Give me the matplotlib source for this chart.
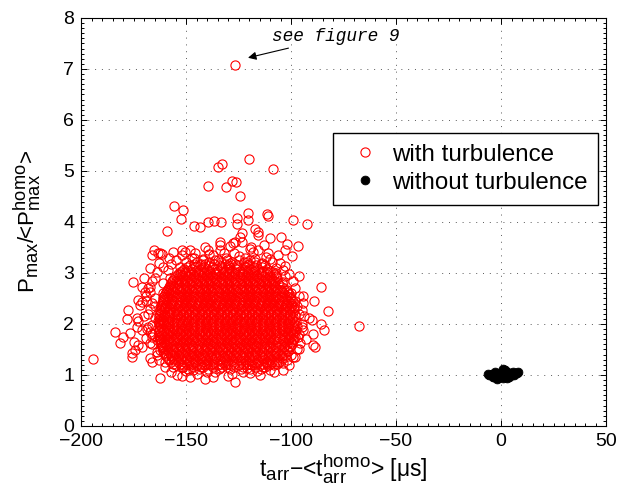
import matplotlib
matplotlib.use("Agg")
import matplotlib.pyplot as plt
import matplotlib._mathtext as _mt
from matplotlib.ticker import MultipleLocator
import numpy as np

plt.rcParams['font.family'] = ['Liberation Sans', 'DejaVu Sans']
plt.rcParams['mathtext.fontset'] = 'custom'
plt.rcParams['mathtext.rm'] = 'Liberation Sans'
plt.rcParams['mathtext.it'] = 'Liberation Sans'
_mt.SHRINK_FACTOR = 0.82

# ---- data: scattered points with turbulence ----
turb_x_sparse = [-126.7, -133.0, -134.6, -139.4, -131.1, -128.0, -126.3, -124.3, -155.7, -151.3,
                 -152.5, -146.2, -143.3, -139.4, -136.7, -133.5, -125.9, -125.9, -158.9, -165.1,
                 -163.2, -161.6, -152.0, -150.5, -145.7, -139.4, -133.8, -133.8, -129.0, -126.7,
                 -124.3, -120.0, -108.7, -120.3, -120.3, -111.3, -110.8, -98.9, -92.2, -117.1,
                 -115.6, -115.6, -123.5, -123.5, -110.0, -104.9, -101.8, -96.8, -102.9, -99.7,
                 -110.8, -115.6, -119.5, -127.5, -105.2, -102.9, -109.2, -96.2, -85.9, -89.0,
                 -82.2, -67.5, -85.9, -84.3, -91.3, -90.1, -89.7, -89.4, -88.6, -94.1,
                 -94.1, -94.9, -103.7, -104.4, -98.9, -102.0, -103.7, -106.8, -96.5, -95.7,
                 -94.1, -175.1, -171.1, -167.1, -167.1, -169.5, -177.5, -172.7, -171.1, -171.9,
                 -166.3, -173.5, -172.7, -183.8, -176.7, -181.4, -194.1, -175.9, -175.9, -174.3,
                 -171.1, -172.7, -167.1, -166.3, -162.4, -161.6, -162.4, -154.4, -148.1, -173.5,
                 -171.1, -168.7, -166.3, -164.0, -158.4, -157.6, -160.8, -160.8, -162.4, -160.8,
                 -126.7, -137.0, -141.8, -133.8, -146.5, -151.3, -119.5, -113.2, -121.1, -111.6,
                 -166.3, -162.4,
                 -168, -166, -169, -165, -167, -163, -158, -155, -152, -147,
                 -142, -137, -131, -127, -122, -117, -112, -107, -103, -100,
                 -98, -96, -95, -96, -97, -100, -104, -108, -115, -128,
                 -140, -150, -156, -160, -164, -166, -167, -165, -170, -178,
                 -180, -175]
turb_y_sparse = [7.08, 5.14, 5.07, 4.71, 4.68, 4.81, 4.78, 4.51, 4.32, 4.24,
                 4.06, 3.93, 3.91, 3.99, 4.01, 4.00, 4.07, 3.96, 3.83, 3.45,
                 3.40, 3.37, 3.45, 3.42, 3.40, 3.45, 3.61, 3.45, 3.52, 3.61,
                 3.71, 5.24, 5.04, 4.18, 4.03, 4.15, 4.12, 4.04, 3.97, 3.87,
                 3.81, 3.75, 3.78, 3.61, 3.68, 3.70, 3.57, 3.52, 3.45, 3.33,
                 3.40, 3.45, 3.48, 3.58, 3.19, 3.14, 3.22, 2.95, 2.72, 2.46,
                 2.26, 1.96, 2.00, 1.88, 2.11, 2.08, 1.80, 1.59, 1.55, 2.54,
                 2.41, 2.27, 2.83, 2.80, 1.36, 1.29, 1.23, 1.26, 1.75, 1.62,
                 1.88, 2.83, 2.73, 2.73, 2.63, 2.63, 2.27, 2.47, 2.44, 2.37,
                 2.41, 2.11, 2.05, 1.85, 1.82, 1.62, 1.31, 1.43, 1.36, 1.49,
                 1.55, 1.59, 1.33, 1.26, 1.49, 1.55, 0.95, 1.00, 0.97, 1.95,
                 1.88, 1.91, 1.75, 1.69, 3.06, 2.90, 2.80, 2.60, 2.27, 2.08,
                 0.87, 0.97, 1.16, 1.13, 1.10, 1.16, 1.03, 1.16, 1.13, 1.23,
                 3.35, 3.39,
                 2.20, 1.98, 2.55, 2.90, 3.10, 3.20, 3.30, 3.25, 3.35, 3.30,
                 3.28, 3.35, 3.30, 3.40, 3.30, 3.28, 3.32, 3.00, 2.95, 2.60,
                 2.45, 2.20, 2.00, 1.80, 1.50, 1.40, 1.10, 1.05, 1.00, 1.02,
                 1.05, 1.08, 1.15, 1.25, 1.40, 1.60, 1.85, 2.35, 2.90, 2.10,
                 1.75, 1.65]

# looser halo around the dense core
turb_x_halo = [-164, -161, -157, -153, -150, -146, -143, -139, -135, -132,
               -129, -125, -121, -118, -114, -110, -107, -104, -101, -156,
               -148, -141, -134, -119, -113, -106,
               -166, -168, -165, -167, -165, -168, -166, -167, -164, -163,
               -160, -169, -170, -169,
               -98, -96, -97, -94, -95, -93, -96, -98, -101, -99,
               -157, -145, -136, -130, -123, -116, -110, -141, -152]
turb_y_halo = [3.02, 3.12, 3.18, 3.12, 3.22, 3.30, 3.18, 3.38, 3.25, 3.40,
               3.20, 3.33, 3.22, 3.42, 3.20, 3.28, 3.10, 3.05, 2.98, 3.42,
               3.45, 3.50, 3.55, 3.50, 3.55, 3.35,
               2.85, 2.70, 2.50, 2.30, 2.12, 1.95, 1.80, 1.62, 1.45, 1.30,
               1.15, 2.45, 2.15, 1.72,
               2.70, 2.55, 2.35, 2.15, 1.95, 1.70, 1.50, 1.35, 1.20, 2.85,
               1.05, 1.02, 1.05, 0.98, 1.05, 1.08, 1.10, 0.93, 0.98]

# dense core of the cloud, row by row (y level: x values)
turb_core_rows = {
    1.12: "-149 -144 -139.5 -134.5 -129 -124 -119.5 -114.5",
    1.155: "-152 -146.5 -143 -137 -133 -127 -123 -117 -112.5",
    1.19: "-155 -151.5 -148 -145 -141.5 -138.5 -135 -131.5 -128.5 -125 -121.5 -118.5 -115 -111.5 -108",
    1.225: "-156 -153 -149.5 -146.5 -143.5 -140 -137 -133.5 -130 -127 -123 -120 -116.5 -113.5 -110 -106.5",
    1.26: "-157 -154 -151 -148.5 -145.5 -142 -139.5 -136.5 -133 -130.5 -127.5 -124 -121.5 -118.5 -115.5 -112 -109 -105.5",
    1.295: "-158 -155.5 -152.5 -149.5 -146 -143 -140.5 -137 -134 -131 -128 -125 -122 -119 -116 -113 -110 -106.5",
    1.33: "-158.5 -155.5 -152.5 -150 -147 -144 -141 -138 -135.5 -132 -129 -126 -123.5 -120 -117 -114 -111 -107.5 -104.5",
    1.365: "-159.5 -156.5 -153.5 -150.5 -147.5 -144.5 -141.5 -138.5 -135.5 -132.5 -129.5 -126.5 -123 -120 -117.5 -114.5 -111 -108 -104.5",
    1.40: "-160 -157 -154 -151.5 -148.5 -145.5 -142.5 -139.5 -136.5 -134 -130.5 -127.5 -124.5 -121.5 -118.5 -116 -112.5 -109 -105.5 -102.5",
    1.435: "-160.5 -157.5 -155 -152 -149 -146 -143 -140 -137.5 -134.5 -131.5 -128.5 -125.5 -122.5 -119 -116.5 -113.5 -110 -106.5 -103.5",
    1.47: "-161 -158.5 -155.5 -152.5 -150 -147 -144 -141 -138 -135 -132.5 -129 -126 -123 -120.5 -117 -114 -111 -107.5 -104.5 -101.5",
    1.505: "-161 -159 -156 -153.5 -150.5 -147.5 -144.5 -141.5 -138.5 -135.5 -133 -130 -127 -124 -121 -118 -115 -112 -108.5 -105 -102",
    1.54: "-161.5 -158 -155 -152 -149 -146.5 -143 -140 -137 -134.5 -131 -128 -125 -122 -119 -116.5 -113 -110 -106.5 -103.5 -100.5",
    1.575: "-161.5 -159 -156 -153 -150 -147 -144 -140.5 -137.5 -134 -131.5 -128.5 -125.5 -122.5 -119.5 -116 -113 -110 -107 -103.5 -100.5",
    1.61: "-162 -159.5 -156.5 -153.5 -150.5 -147.5 -144.5 -141.5 -138.5 -135.5 -132.5 -129.5 -126.5 -123.5 -120.5 -117.5 -114.5 -111.5 -108.5 -105 -102 -99.5",
    1.645: "-162 -160.5 -157.5 -154.5 -151.5 -148.5 -145.5 -142.5 -139.5 -136.5 -133.5 -130.5 -127.5 -124.5 -121.5 -118.5 -115.5 -112.5 -109.5 -106.5 -103 -100",
    1.68: "-162.5 -159 -156 -153 -150 -147 -144 -141 -138 -135 -132 -129 -126 -123 -120 -117 -114 -111 -108 -104.5 -101.5 -99",
    1.715: "-162.5 -161 -158 -155 -152 -149 -146 -143 -140 -137 -134 -131 -128 -125 -122 -119 -116 -113 -110 -107 -104 -101 -98.5",
    1.75: "-163 -160 -157.5 -154.5 -151.5 -148.5 -145.5 -142.5 -139.5 -136.5 -133.5 -130.5 -127.5 -124.5 -121.5 -118.5 -115.5 -112.5 -109.5 -106 -103 -100.5 -98",
    1.785: "-163 -161.5 -159 -156 -153 -150 -147 -144 -141 -138 -135 -132 -129 -126 -123 -120 -117 -114 -111 -107.5 -104.5 -101.5 -99",
    1.82: "-162.5 -159.5 -156.5 -153.5 -150.5 -147.5 -144 -141 -138.5 -135.5 -132.5 -129.5 -126.5 -123 -120.5 -117.5 -114.5 -111.5 -108.5 -105.5 -102 -99",
    1.855: "-163 -161 -158 -155 -152 -149 -146 -143 -140 -137 -134 -131 -128 -125 -122 -119 -116 -113 -110 -107 -104 -101 -98.5",
    1.89: "-163 -160.5 -157.5 -154.5 -151.5 -148.5 -145.5 -142.5 -139.5 -136.5 -133.5 -130.5 -127.5 -124.5 -121.5 -118.5 -115.5 -112.5 -109.5 -106.5 -103.5 -100 -97.5",
    1.925: "-163.5 -161.5 -158.5 -155.5 -152.5 -149.5 -146.5 -143.5 -140.5 -137.5 -134.5 -131.5 -128.5 -125.5 -122.5 -119.5 -116.5 -113.5 -110.5 -107.5 -104.5 -101.5 -98.5",
    1.96: "-162.5 -159.5 -156 -153 -150 -147 -144 -141 -138 -135 -132 -129 -126 -123 -120 -117 -114 -111 -108 -105 -102 -99 -97",
    1.995: "-163 -161 -158 -155 -152 -149.5 -146.5 -143.5 -140.5 -137.5 -134.5 -131.5 -128.5 -125.5 -122.5 -119.5 -116.5 -113.5 -110.5 -107.5 -104.5 -101.5 -98.5",
    2.03: "-163 -160.5 -157.5 -154.5 -151.5 -148.5 -145.5 -142.5 -139.5 -136.5 -133.5 -130.5 -127.5 -124.5 -121.5 -118.5 -115.5 -112.5 -109.5 -106.5 -103.5 -100.5 -97.5",
    2.065: "-163.5 -161.5 -158.5 -155.5 -152 -149 -146 -143 -140 -137 -134 -131 -128 -125 -122 -119 -116 -113 -110 -107 -104 -101 -98.5",
    2.10: "-162.5 -159.5 -156.5 -153 -150 -147 -144 -141 -138 -135 -132 -129 -126 -123 -120 -117 -114 -111 -108 -105 -102 -99.5",
    2.135: "-163 -161 -158 -155 -152.5 -149.5 -146.5 -143.5 -140.5 -137.5 -134.5 -131.5 -128.5 -125.5 -122.5 -119.5 -116.5 -113.5 -110.5 -107.5 -104.5 -101.5 -99",
    2.17: "-163 -160 -157.5 -154.5 -151.5 -148.5 -145.5 -142.5 -139.5 -136.5 -133.5 -130.5 -127.5 -124.5 -121.5 -118.5 -115.5 -112.5 -109.5 -106.5 -103.5 -100.5 -98",
    2.205: "-162.5 -160.5 -157.5 -154.5 -151.5 -148.5 -145.5 -142.5 -139.5 -136.5 -133.5 -130.5 -127.5 -124.5 -121.5 -118.5 -115.5 -112.5 -109.5 -106.5 -103.5 -100.5",
    2.24: "-162 -159 -156 -153 -150 -147 -144 -141 -138 -135 -132 -129 -126 -123 -120 -117 -114 -111 -108 -105 -102 -99",
    2.275: "-162.5 -160.5 -158 -155 -152 -149 -146 -143 -140 -137 -134 -131 -128 -125 -122 -119 -116 -113 -110 -107 -104 -101 -98.5",
    2.31: "-162 -160 -157.5 -154.5 -151.5 -148.5 -145.5 -142.5 -139.5 -136.5 -133.5 -130.5 -127.5 -124.5 -121.5 -118.5 -115.5 -112.5 -109.5 -106.5 -103.5 -100.5 -98.5",
    2.345: "-162 -160 -157 -154 -151 -148 -145 -142 -139 -136 -133 -130 -127 -124 -121 -118 -115 -112 -109 -106 -103 -100",
    2.38: "-161.5 -159 -156 -153 -150 -147 -144 -141 -138 -135 -132 -129 -126 -123 -120 -117 -114 -111 -108 -105 -102 -99.5",
    2.415: "-161.5 -159.5 -156.5 -153.5 -150.5 -147.5 -144.5 -141.5 -138.5 -135.5 -132.5 -129.5 -126.5 -123.5 -120.5 -117.5 -114.5 -111.5 -108.5 -105.5 -102.5 -100",
    2.45: "-161 -158.5 -155.5 -152.5 -149.5 -146.5 -143.5 -140.5 -137.5 -134.5 -131.5 -128.5 -125.5 -122.5 -119.5 -116.5 -113.5 -110.5 -107.5 -104.5 -101.5 -99",
    2.485: "-161 -159.5 -156.5 -153.5 -150.5 -147.5 -144.5 -141.5 -138.5 -135.5 -132.5 -129.5 -126.5 -123.5 -120.5 -117.5 -114.5 -111.5 -108.5 -105.5 -102.5 -100",
    2.52: "-161 -158 -155 -152 -149 -146 -143 -140 -137 -134 -131 -128 -125 -122 -119 -116 -113 -110 -107 -104 -100.5",
    2.555: "-160.5 -159 -156 -153 -150 -147 -144 -141 -138 -135 -132 -129 -126 -123 -120 -117 -114 -111 -108 -105 -102",
    2.59: "-160 -157.5 -154.5 -151.5 -148.5 -145.5 -142.5 -139.5 -136.5 -133.5 -130.5 -127.5 -124.5 -121.5 -118.5 -115.5 -112.5 -109.5 -106.5 -103.5 -101",
    2.625: "-159.5 -158 -155.5 -152.5 -149.5 -146.5 -143.5 -140.5 -137.5 -134.5 -131.5 -128.5 -125.5 -122.5 -119.5 -116.5 -113.5 -110.5 -107.5 -104.5 -101.5",
    2.66: "-159 -156 -153 -150 -147 -144 -141 -138 -135 -132 -129 -126 -123 -120 -117 -114 -111 -108 -105 -102",
    2.695: "-158.5 -157 -154.5 -151.5 -148.5 -145.5 -142.5 -139.5 -136.5 -133.5 -130.5 -127.5 -124.5 -121.5 -118.5 -115.5 -112.5 -109.5 -106.5 -103.5",
    2.73: "-158 -155.5 -152.5 -149.5 -146.5 -143.5 -140.5 -137.5 -134.5 -131.5 -128.5 -125.5 -122.5 -119.5 -116.5 -113.5 -110.5 -107.5 -104.5",
    2.765: "-157.5 -156 -153.5 -150.5 -147.5 -144.5 -141.5 -138.5 -135.5 -132.5 -129.5 -126.5 -123.5 -120.5 -117.5 -114.5 -111.5 -108.5 -105.5",
    2.80: "-157 -154 -151 -148 -145 -142 -139 -136 -133 -130 -127 -124 -121 -118 -115 -112 -109 -106",
    2.835: "-156.5 -155 -152.5 -149.5 -146.5 -143.5 -140.5 -137.5 -134.5 -131.5 -128.5 -125.5 -122.5 -119.5 -116.5 -113.5 -110.5 -107.5",
    2.87: "-156 -153.5 -150.5 -147.5 -144.5 -141.5 -138.5 -135.5 -132.5 -129.5 -126.5 -123.5 -120.5 -117.5 -114.5 -111.5 -108.5",
    2.905: "-155.5 -154 -151.5 -148.5 -145.5 -142.5 -139.5 -136.5 -133.5 -130.5 -127.5 -124.5 -121.5 -118.5 -115.5 -112.5 -109.5 -106.5",
    2.94: "-155 -152 -149 -146 -143 -140 -137 -134 -131 -128 -125 -122 -119 -116 -113 -110 -107",
    2.975: "-154 -153 -150.5 -147.5 -144.5 -141.5 -138.5 -135.5 -132.5 -129.5 -126.5 -123.5 -120.5 -117.5 -114.5 -111.5 -108",
    3.01: "-153 -150.5 -147.5 -144.5 -141.5 -138.5 -135.5 -132.5 -129.5 -126.5 -123.5 -120.5 -117.5 -114.5 -111.5 -108.5",
    3.045: "-152 -149 -145.5 -142 -139 -135 -131.5 -128 -124.5 -121 -117 -113.5 -110",
    3.08: "-151 -147 -143.5 -140 -136.5 -133 -129.5 -126 -122.5 -119 -115.5 -111.5",
    3.115: "-149.5 -145.5 -141.5 -137.5 -133.5 -129.5 -125.5 -121.5 -117.5 -114",
    3.15: "-148 -143.5 -139 -134.5 -130 -125.5 -121 -116.5 -112.5",
    3.185: "-146 -141 -136.5 -131.5 -126.5 -120 -114.5",
    3.22: "-145 -139 -133.5 -128 -122.5 -117",
    3.26: "-142 -136 -130.5 -125 -119.5",
}

# points without turbulence
noturb_x = [-5.5, -4.5, -3.5, -2.5, -1.5, -1.0, 0.0, 0.5, 1.0, 1.5, 2.0, 2.5, 3.0, 3.5, 4.0,
            4.5, 5.5, 6.5, 7.5, -6.0, -3.0, 0.0, 2.0, 1.0, -2.0, 3.0, 5.0, -4.0, 6.0, 8.0]
noturb_y = [0.99, 1.02, 0.97, 1.01, 0.95, 1.04, 0.99, 1.06, 0.95, 1.09, 1.02, 0.97, 1.05, 1.00, 0.96,
            1.03, 1.05, 1.04, 1.03, 1.02, 1.05, 1.01, 1.10, 1.12, 0.93, 0.94, 1.00, 0.96, 0.99, 1.06]

x_ticks = [-200, -150, -100, -50, 0, 50]
y_ticks = [0, 1, 2, 3, 4, 5, 6, 7, 8]

# assemble turbulence arrays
core_x, core_y = [], []
for yv, row in turb_core_rows.items():
    for s in row.split():
        core_x.append(float(s))
        core_y.append(yv)
turb_x = np.array(turb_x_sparse + turb_x_halo + core_x)
turb_y = np.array(turb_y_sparse + turb_y_halo + core_y)

fig = plt.figure(figsize=(6.35, 4.86), dpi=100)
ax = fig.add_axes([0.1276, 0.1235, 0.8268, 0.8395])

ax.plot(turb_x, turb_y, linestyle='none', marker='o', ms=6.6, mfc='none', mec='red', mew=0.8,
        label='with turbulence')
ax.plot(noturb_x, noturb_y, linestyle='none', marker='o', ms=6.3, mfc='black', mec='black', mew=0.6,
        label='without turbulence')

ax.set_xlim(-200, 50)
ax.set_ylim(0, 8)
ax.set_xticks(x_ticks)
ax.set_yticks(y_ticks)
ax.xaxis.set_minor_locator(MultipleLocator(5))
ax.yaxis.set_minor_locator(MultipleLocator(0.1))
ax.tick_params(which='both', direction='in', top=True, right=True, labelsize=14, width=0.7)
ax.tick_params(which='major', length=4.5, pad=5)
ax.tick_params(which='minor', length=2)
for sp in ax.spines.values():
    sp.set_linewidth(0.8)

ax.grid(True, which='major', linestyle=(0, (1, 6)), color='0.35', linewidth=0.7)
ax.set_axisbelow(True)

ax.set_xlabel(r'$\mathregular{t_{arr}}$−<$\mathregular{t_{arr}^{homo}}$> [μs]', fontsize=16.5)
ax.xaxis.set_label_coords(0.5, -0.064, transform=ax.transAxes)
ax.xaxis.label.set_va('top')
ax.set_ylabel(r'P$\mathregular{_{max}}$/<P$\mathregular{^{homo}_{max}}$>', fontsize=16)
ax.yaxis.set_label_coords(-0.072, 0.5, transform=ax.transAxes)

leg = ax.legend(loc='upper right', bbox_to_anchor=(0.985, 0.718), fontsize=17.4, frameon=True,
                fancybox=False, framealpha=1, edgecolor='black', handletextpad=0.2,
                borderpad=0.45, labelspacing=0.24, handlelength=1.8, borderaxespad=0)
leg.get_frame().set_linewidth(1.0)

ax.annotate('see figure 9', xy=(-120.5, 7.22), xytext=(-109.0, 7.63),
            fontsize=12.8, family='Liberation Mono', style='italic', va='center', ha='left',
            arrowprops=dict(arrowstyle='-|>', color='black', lw=0.8, mutation_scale=12,
                            shrinkA=0, shrinkB=0))

fig.savefig('out.png', dpi=100)
